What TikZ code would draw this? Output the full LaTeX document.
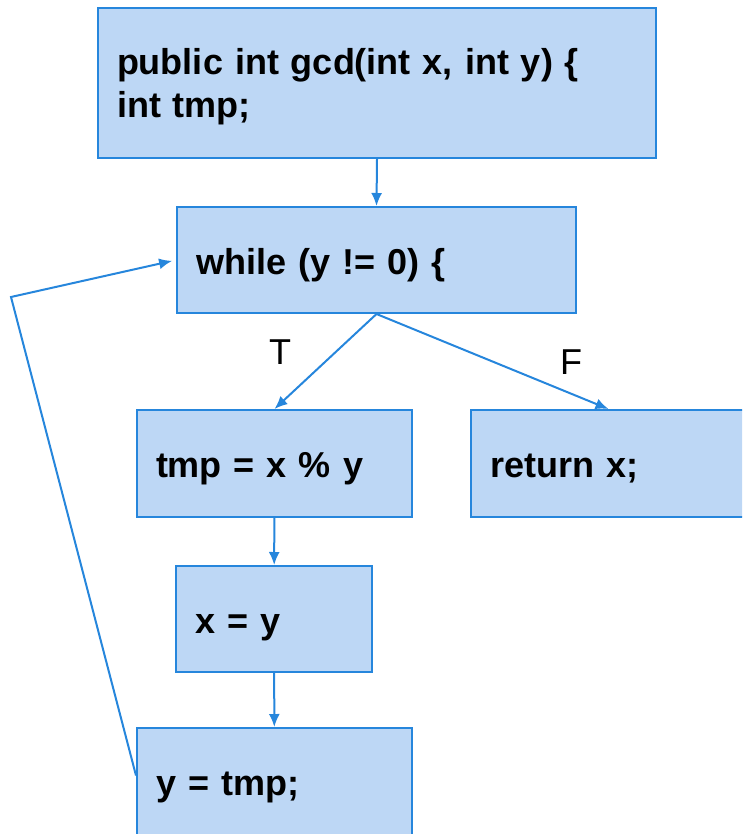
\documentclass[tikz,border=0pt]{standalone}
\usepackage{fontspec}
\setmainfont{Liberation Sans}
\usetikzlibrary{arrows.meta,positioning}
\definecolor{boxfill}{RGB}{189,215,245}
\definecolor{boxline}{RGB}{38,134,220}
\tikzset{
    stmt/.style={rectangle, draw=boxline, fill=boxfill, line width=2pt, inner xsep=19pt, inner ysep=0pt, align=left, text height=28pt, text depth=0pt, font=\fontsize{36}{43}\selectfont\bfseries},
    branch/.style={font=\fontsize{36}{43}\selectfont},
    flow/.style={draw=boxline, line width=2pt, -{Latex[length=13pt,width=11pt]}}
}

\begin{document}
\begin{tikzpicture}[x=1pt,y=-1pt]
    \useasboundingbox (0,0) rectangle (742,834);
    \clip (0,0) rectangle (742,834);
    % statements of the method
    \node[stmt, text width=520pt, minimum height=150pt, text depth=44pt] (gcd) at (377,83) {public int gcd(int x, int y) \{\\int tmp;};
    \node[stmt, text width=361pt, minimum height=106pt] (while) at (376.5,260) {while (y != 0) \{};
    \node[stmt, text width=237pt, minimum height=107pt] (mod) at (274.5,463.5) {tmp = x \% y};
    \node[stmt, text width=237pt, minimum height=107pt] (ret) at (608.5,463.5) {return x;};
    \node[stmt, text width=158pt, minimum height=106pt] (swap) at (274,619) {x = y};
    \node[stmt, text width=237pt, minimum height=107pt] (assign) at (274.5,781.5) {y = tmp;};
    % branch labels
    \node[branch] (t) at (280,352) {T};
    \node[branch] (f) at (571,362) {F};
    % control flow
    \draw[flow] (gcd.south) -- (while.north);
    \draw[flow] (while.south) -- (mod.north);
    \draw[flow] (while.south) -- (ret.north);
    \draw[flow] (mod) -- (swap);
    \draw[flow] (swap) -- (assign);
    \coordinate (back) at (11,297);
    \draw[flow, shorten >=4pt] ([yshift=6pt]assign.west) -- (back) -- (while.west);
\end{tikzpicture}
\end{document}
